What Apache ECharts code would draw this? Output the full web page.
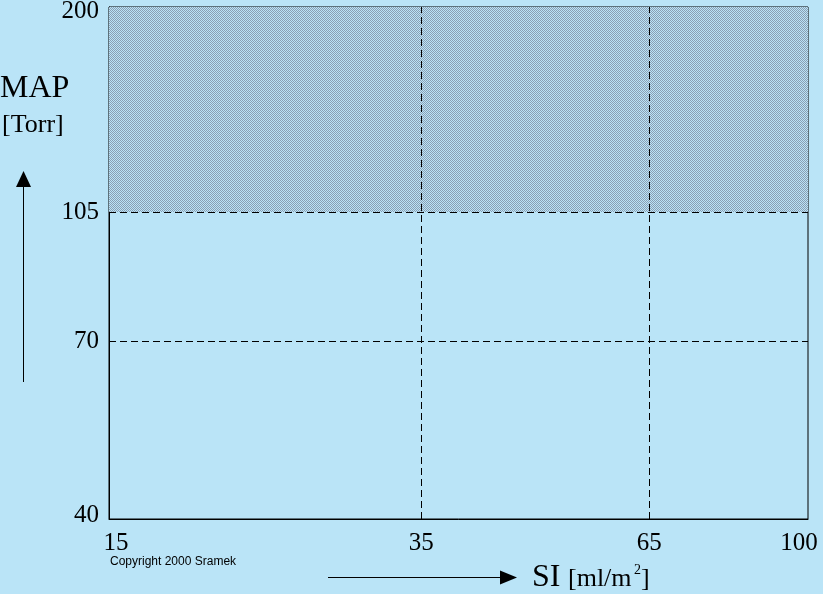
<!DOCTYPE html>
<html>
<head>
<meta charset="utf-8">
<script src="https://cdn.jsdelivr.net/npm/echarts@6/dist/echarts.min.js"></script>
<style>
html,body{margin:0;padding:0;background:#bae4f7;}
#c{width:823px;height:594px;}
</style>
</head>
<body>
<div id="c"></div>
<script>
// SI [ml/m2] ticks (log scale)
var xTicks = [15, 35, 65, 100];
// MAP [Torr] ticks (log scale)
var yTicks = [40, 70, 105, 200];
// dashed reference lines
var xLines = [35, 65];
var yLines = [70, 105];
// hatched region [x0,y0] - [x1,y1]
var hatchFrom = [15, 105];
var hatchTo = [100, 200];

var BG = '#bae4f7';
var pat = document.createElement('canvas');
pat.width = 2; pat.height = 2;
var pctx = pat.getContext('2d');
pctx.fillStyle = BG; pctx.fillRect(0,0,2,2);
pctx.fillStyle = '#8a9fb4';
pctx.fillRect(0,0,1,1); pctx.fillRect(1,1,1,1);

var serif = '"Liberation Serif", "DejaVu Serif", serif';
var chart = echarts.init(document.getElementById('c'), null, {renderer:'canvas'});
var lineData = [];
xLines.forEach(function(v){ lineData.push({xAxis: v}); });
yLines.forEach(function(v){ lineData.push({yAxis: v}); });

var xMin = xTicks[0], xMax = xTicks[xTicks.length-1];
var yMin = yTicks[0], yMax = yTicks[yTicks.length-1];

chart.setOption({
  backgroundColor: BG,
  animation: false,
  grid: {left:109, right:15, top:7, bottom:75, outerBoundsMode:'none', containLabel:false,
         show:true, borderColor:'#000', borderWidth:1, backgroundColor:'transparent'},
  xAxis: {
    type:'log', min: xMin, max: xMax,
    axisLine:{show:true, lineStyle:{color:'#000', width:1}},
    axisTick:{show:false},
    splitLine:{show:false},
    axisLabel:{customValues: xTicks, color:'#000', fontFamily:serif, fontSize:25, margin:12,
      showMinLabel:true, showMaxLabel:true,
      formatter:function(v){
        if (Math.abs(v-xMin)<1e-6) return '{l|'+xMin+'}';
        if (Math.abs(v-xMax)<1e-6) return '{r|'+xMax+'}';
        return String(Math.round(v));
      },
      rich:{
        l:{fontFamily:serif, fontSize:25, color:'#000', padding:[0,0,0,14]},
        r:{fontFamily:serif, fontSize:25, color:'#000', padding:[0,18,0,0]}
      }
    }
  },
  yAxis: {
    type:'log', min: yMin, max: yMax,
    axisLine:{show:true, lineStyle:{color:'#000', width:1}},
    axisTick:{show:false},
    splitLine:{show:false},
    axisLabel:{customValues: yTicks, color:'#000', fontFamily:serif, fontSize:25, margin:10,
      showMinLabel:true, showMaxLabel:true,
      formatter:function(v){
        if (Math.abs(v-yMin)<1e-6) return '{b|'+yMin+'}';
        if (Math.abs(v-yMax)<1e-6) return '{t|'+yMax+'}';
        return String(Math.round(v));
      },
      rich:{
        b:{fontFamily:serif, fontSize:25, color:'#000', padding:[0,0,8,0]},
        t:{fontFamily:serif, fontSize:25, color:'#000', padding:[8,0,0,0]}
      }
    }
  },
  series: [{
    type:'line', data: [], symbol:'none',
    markArea: {
      silent:true,
      itemStyle:{color:{image: pat, repeat:'repeat'}, borderWidth:0},
      data: [[{coord: hatchFrom}, {coord: hatchTo}]]
    },
    markLine: {
      silent:true, symbol:'none', label:{show:false},
      lineStyle:{color:'#000', type:[7,4], width:1},
      data: lineData
    }
  }],
  graphic: [
    {type:'text', left:0, top:73, style:{text:'MAP', font:'32px '+serif, fill:'#000'}},
    {type:'text', left:2, top:112, style:{text:'[Torr]', font:'26px '+serif, fill:'#000'}},
    {type:'line', shape:{x1:23.5, y1:382, x2:23.5, y2:185}, style:{stroke:'#000', lineWidth:1}},
    {type:'polygon', shape:{points:[[16,187],[31,187],[23.5,171]]}, style:{fill:'#000'}},
    {type:'line', shape:{x1:328, y1:577.5, x2:502, y2:577.5}, style:{stroke:'#000', lineWidth:1}},
    {type:'polygon', shape:{points:[[500,570.5],[500,584.5],[517,577.5]]}, style:{fill:'#000'}},
    {type:'text', left:532, top:562, style:{text:'SI', font:'32px '+serif, fill:'#000'}},
    {type:'text', left:568, top:566, style:{text:'[ml/m', font:'26px '+serif, fill:'#000'}},
    {type:'text', left:634, top:563, style:{text:'2', font:'14px '+serif, fill:'#000'}},
    {type:'text', left:641, top:566, style:{text:']', font:'26px '+serif, fill:'#000'}},
    {type:'text', left:110, top:556, style:{text:'Copyright 2000 Sramek', font:'12px "Liberation Sans", Arial, sans-serif', fill:'#000'}}
  ]
});
</script>
</body>
</html>
